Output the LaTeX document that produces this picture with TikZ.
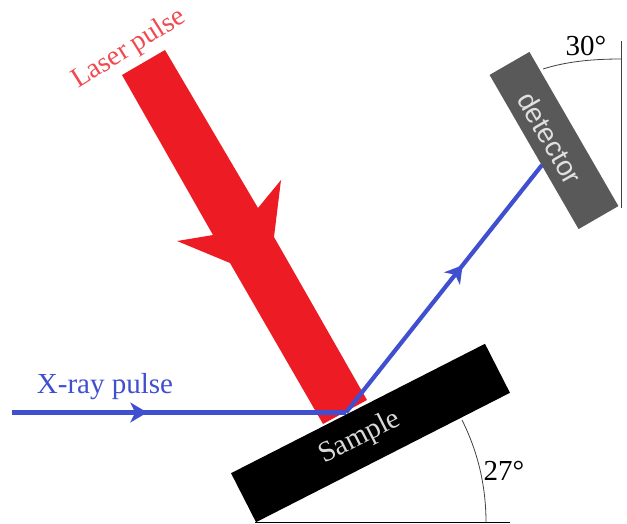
\documentclass[tikz,border=0pt]{standalone}
\usepackage{fontspec}
\setmainfont{Liberation Serif}
\setsansfont{Liberation Sans}
\usetikzlibrary{arrows.meta, positioning, decorations.markings}
\definecolor{laserred}{HTML}{ED1C24}
\definecolor{beamblue}{HTML}{3F4FD0}
\definecolor{detgray}{HTML}{595959}
\begin{document}
\begin{tikzpicture}[x=1pt, y=-1pt,
        plate/.style={rectangle, inner sep=0pt, text=white!85!black},
        beam/.style={beamblue, line width=4.2pt, line join=round},
        midarr/.style={postaction={decorate, decoration={markings,
                  mark=at position #1 with {\arrow{Stealth[length=17pt,width=20pt,inset=5pt]}}}}},
        ang/.style={black!75, line width=0.8pt},
        lab/.style={inner sep=0pt, font=\fontsize{29}{29}\selectfont}]
      \useasboundingbox (0,0) rectangle (627,524);
      % laser
      \fill[laserred] (122,75) -- (165,50) -- (258,208) -- (281,180) -- (274,237)
            -- (367,400) -- (323,424) -- (230,263) -- (177,241) -- (213,235) -- cycle;
      \node[lab, laserred!80, rotate=32, font=\fontsize{28}{28}\selectfont] (laserlab) at (129,49) {Laser pulse};
      % sample and detector
      \node[plate, fill=black, rotate=27, minimum width=285pt, minimum height=55pt] (sample) at (370.5,433) {};
      \node[lab, rotate=27, white!85!black] (samplelab) at (360,438) {Sample};
      \node[plate, fill=detgray, rotate=-60, minimum width=178pt, minimum height=46pt] (det) at (554,140.5) {};
      \node[rotate=-60, white!88!black, inner sep=0pt, font=\sffamily\fontsize{28}{28}\selectfont] (detlab) at (550,138) {detector};
      % x-ray
      \coordinate (xstart) at (12,412.5);
      \coordinate (hit) at (346,412.5);
      \coordinate (xend) at (542,165);
      \draw[beam, midarr=0.405] (xstart) -- (hit);
      \draw[beam, midarr=0.595] (hit) -- (xend);
      \node[lab, beamblue] (xlab) at (105,387) {X-ray pulse};
      % angles
      \coordinate (detcorner) at (621,208);
      \coordinate (dettop) at (621,41);
      \coordinate (a1) at (543,69);
      \coordinate (a2) at (621,59);
      \draw[ang] (detcorner) -- (dettop);
      \draw[ang] (a1) .. controls (565,62) and (590,59) .. (a2);
      \node[lab] (ang30) at (586,46) {30°};
      \coordinate (scorner) at (255,522.5);
      \coordinate (send) at (510,522.5);
      \coordinate (b1) at (462,420);
      \coordinate (b2) at (486,522.5);
      \draw[black, line width=1pt] (scorner) -- (send);
      \draw[ang] (b1) .. controls (478,452) and (486,486) .. (b2);
      \node[lab] (ang27) at (504,471) {27°};
    \end{tikzpicture}
\end{document}
